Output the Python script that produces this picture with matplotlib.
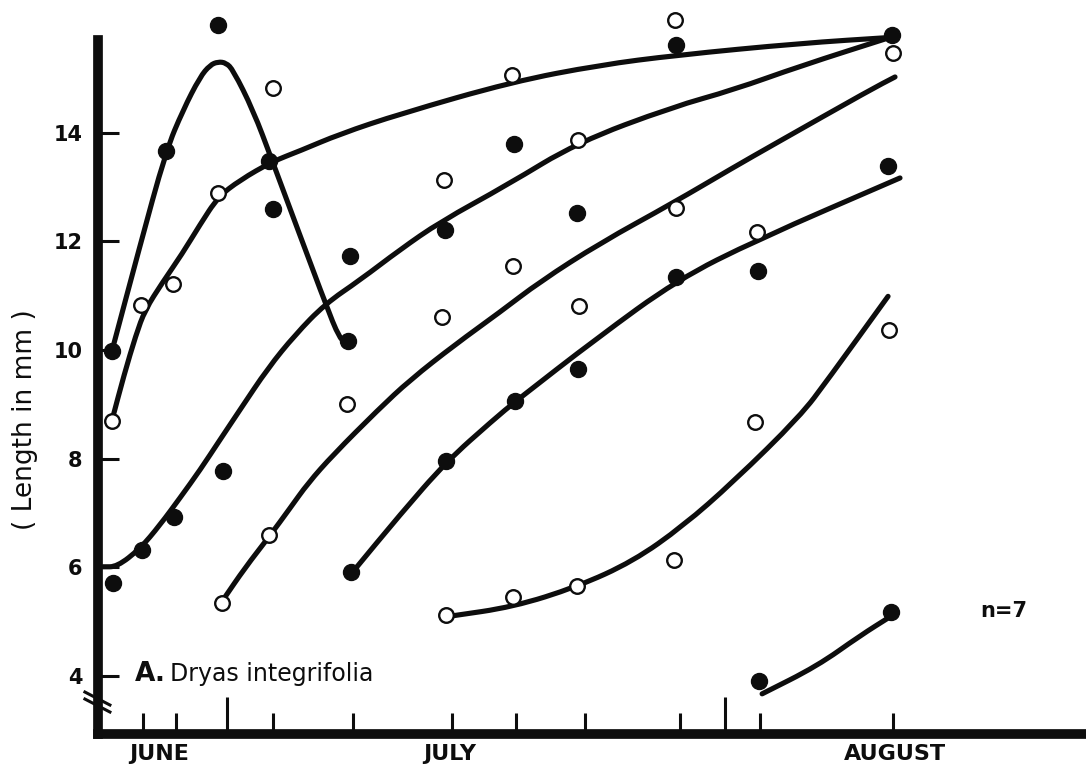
import matplotlib
matplotlib.use("Agg")
import matplotlib.pyplot as plt
from matplotlib import font_manager
from matplotlib.path import Path
from matplotlib.patches import PathPatch


def pick_font(*names):
    for name in names:
        try:
            font_manager.findfont(name, fallback_to_default=False)
            return name
        except ValueError:
            pass
    return "DejaVu Sans"


NARROW = pick_font("Liberation Sans Narrow", "DejaVu Sans Condensed", "DejaVu Sans")

# x = days counted from 1 June (1 July = 30, 1 August = 61), y = length in mm
# hand-drawn growth curves, one per cohort (n=7)
curve_1_day = [6.18, 8.00, 9.90, 11.10, 12.29, 13.00, 13.56, 14.12, 14.61, 16.02, 17.35,
               21.08, 22.13, 22.62]
curve_1_mm = [10.06, 11.85, 13.67, 14.42, 15.03, 15.25, 15.31, 15.29, 15.16, 14.42, 13.50,
              10.87, 10.19, 10.15]

curve_2_day = [6.11, 6.95, 7.79, 8.43, 9.64, 11.03, 12.29, 13.56, 15.10, 17.35, 19.32,
               22.13, 26.35, 34.22, 40.40, 45.74, 54.46, 60.92]
curve_2_mm = [8.71, 9.54, 10.28, 10.74, 11.24, 11.77, 12.31, 12.82, 13.13, 13.47, 13.67,
              13.98, 14.35, 14.94, 15.25, 15.43, 15.65, 15.76]

curve_3_day = [5.47, 6.46, 8.07, 9.48, 10.89, 12.29, 13.70, 15.10, 17.07, 18.97, 21.08,
               23.53, 26.35, 29.16, 33.87, 38.78, 45.53, 49.75, 54.46, 60.92]
curve_3_mm = [6.01, 6.01, 6.34, 6.78, 7.28, 7.79, 8.35, 8.90, 9.67, 10.28, 10.85,
              11.29, 11.85, 12.36, 13.04, 13.82, 14.48, 14.79, 15.23, 15.77]

curve_4_day = [13.91, 15.45, 17.14, 18.62, 19.88, 21.64, 24.80, 27.05, 30.21, 33.37, 36.18,
               40.40, 45.53, 49.75, 52.56, 59.37, 61.13]
curve_4_mm = [5.40, 5.99, 6.56, 7.09, 7.55, 8.07, 8.90, 9.45, 10.10, 10.70, 11.26,
              11.97, 12.71, 13.36, 13.78, 14.79, 15.03]

curve_5_day = [23.04, 26.35, 29.58, 32.88, 34.57, 40.19, 45.81, 51.43, 61.48]
curve_5_mm = [5.92, 6.97, 7.94, 8.71, 9.08, 10.22, 11.29, 12.03, 13.17]

curve_6_day = [29.86, 34.29, 38.78, 42.72, 46.23, 49.75, 54.46, 56.42, 60.64]
curve_6_mm = [5.10, 5.27, 5.64, 6.11, 6.76, 7.57, 8.78, 9.46, 10.99]

curve_7_day = [51.79, 55.65, 58.67, 60.85]
curve_7_mm = [3.67, 4.18, 4.74, 5.10]

curves = [(curve_1_day, curve_1_mm), (curve_2_day, curve_2_mm), (curve_3_day, curve_3_mm),
          (curve_4_day, curve_4_mm), (curve_5_day, curve_5_mm), (curve_6_day, curve_6_mm),
          (curve_7_day, curve_7_mm)]

# measured points, filled and open symbols
filled_day = [6.11, 6.18, 8.19, 9.90, 10.46, 13.56, 13.91, 17.14, 17.42, 22.69, 22.83, 22.90,
              29.51, 29.58, 34.36, 34.43, 38.78, 38.85, 45.74, 45.74, 51.50, 51.57, 60.64,
              60.85, 60.92]
filled_mm = [9.98, 5.72, 6.31, 13.67, 6.92, 15.98, 7.78, 13.49, 12.59, 10.17, 11.74, 5.91,
             12.22, 7.96, 13.80, 9.06, 12.53, 9.65, 15.61, 11.34, 11.45, 3.91, 13.39,
             5.17, 15.80]

open_day = [6.11, 8.14, 10.39, 13.56, 13.84, 17.14, 17.42, 22.62, 29.30, 29.44, 29.58, 34.22,
            34.29, 34.29, 38.78, 38.85, 38.92, 45.60, 45.67, 45.74, 51.29, 51.43, 60.71, 60.99]
open_mm = [8.70, 10.83, 11.21, 12.90, 5.34, 6.59, 14.83, 9.01, 10.61, 13.14, 5.12, 15.06,
           11.54, 5.45, 5.65, 13.87, 10.81, 6.13, 16.07, 12.61, 8.68, 12.17, 10.37, 15.47]

# sampling dates marked on the time axis
sample_ticks = [8.29, 10.61, 17.42, 23.04, 30.0, 34.5, 39.34, 46.02, 51.64, 60.99]
long_ticks = [14.19, 49.18]
month_names = ["JUNE", "JULY", "AUGUST"]
month_day = [9.41, 29.86, 61.13]
y_ticks = [4, 6, 8, 10, 12, 14]

INK = "#0d0d0d"


def smooth_curve(xs, ys):
    # quadratic Bezier through the midpoints, the read vertices act as control points
    pts = list(zip(xs, ys))
    verts = [pts[0]]
    codes = [Path.MOVETO]
    if len(pts) > 2:
        mid = ((pts[0][0] + pts[1][0]) / 2, (pts[0][1] + pts[1][1]) / 2)
        verts.append(mid)
        codes.append(Path.LINETO)
        for i in range(1, len(pts) - 1):
            nxt = ((pts[i][0] + pts[i + 1][0]) / 2, (pts[i][1] + pts[i + 1][1]) / 2)
            verts += [pts[i], nxt]
            codes += [Path.CURVE3, Path.CURVE3]
    verts.append(pts[-1])
    codes.append(Path.LINETO)
    return Path(verts, codes)


fig = plt.figure(figsize=(10.86, 7.67), dpi=100)
ax = fig.add_axes([0.0902, 0.0430, 0.9098, 0.9048])
ax.set_xlim(5.12, 74.55)
ax.set_ylim(2.93, 15.71)

for cd, cm in curves:
    ax.add_patch(PathPatch(smooth_curve(cd, cm), fill=False, ec=INK, lw=3.7,
                           capstyle="round", joinstyle="round", clip_on=False, zorder=2))

ax.plot(filled_day, filled_mm, "o", ms=11.5, color=INK, mec=INK, clip_on=False, zorder=3)
ax.plot(open_day, open_mm, "o", ms=10.5, mfc="white", mec=INK, mew=1.7, clip_on=False,
        zorder=3)

for side in ["top", "right"]:
    ax.spines[side].set_visible(False)
ax.spines["left"].set_linewidth(7)
ax.spines["bottom"].set_linewidth(7)
ax.spines["left"].set_color(INK)
ax.spines["bottom"].set_color(INK)

ax.set_yticks(y_ticks)
ax.set_yticklabels([str(v) for v in y_ticks], fontfamily=NARROW, fontweight="bold",
                   fontsize=15)
ax.tick_params(axis="y", direction="in", length=15, width=2.2, pad=11, colors=INK)

ax.set_xticks(long_ticks)
ax.set_xticks(sample_ticks, minor=True)
ax.set_xticklabels([])
ax.tick_params(axis="x", which="major", direction="in", length=27, width=2.2, colors=INK)
ax.tick_params(axis="x", which="minor", direction="in", length=15, width=2.2, colors=INK)

for name, d in zip(month_names, month_day):
    ax.text(d, -0.0144, name, transform=ax.get_xaxis_transform(), ha="center", va="top",
            fontfamily=NARROW, fontweight="bold", fontsize=16, color=INK)

# axis break on the y axis
ax.plot([-0.0132, 0.0121], [0.0605, 0.0418], transform=ax.transAxes, color=INK, lw=2.2,
        clip_on=False)
ax.plot([-0.0132, 0.0121], [0.0504, 0.0317], transform=ax.transAxes, color=INK, lw=2.2,
        clip_on=False)

ax.text(0.0374, 0.0764, "A.", transform=ax.transAxes, fontsize=19, fontweight="bold",
        va="baseline", ha="left", color=INK)
ax.text(0.0729, 0.0764, "Dryas integrifolia", transform=ax.transAxes, fontsize=17,
        va="baseline", ha="left", color=INK)
ax.text(0.8927, 0.1686, "n=7", transform=ax.transAxes, fontsize=15, fontweight="bold",
        va="baseline", ha="left", color=INK)

fig.text(25 / 1086, 1 - 420 / 767, "( Length in mm )", rotation=90, ha="center",
         va="center", fontsize=19, color=INK)

fig.savefig("out.png", dpi=100)
